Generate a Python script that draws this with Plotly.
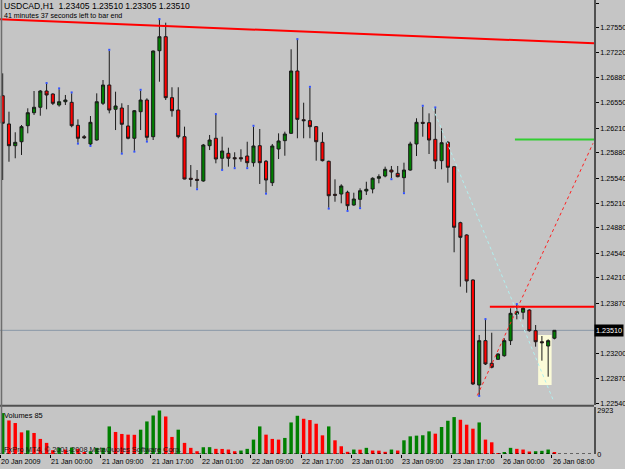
import plotly.graph_objects as go

# ---------------- data ----------------
symbol_header = "USDCAD,H1  1.23405 1.23510 1.23305 1.23510"
timer_text = "41 minutes 37 seconds left to bar end"

opens = [1.26642, 1.26265, 1.25975, 1.26028, 1.26242, 1.26415, 1.26488, 1.26705, 1.26665, 1.26518,
         1.26562, 1.26554, 1.26247, 1.26095, 1.25998, 1.26051, 1.26541, 1.26785, 1.26461, 1.26478,
         1.26238, 1.26074, 1.26429, 1.26585, 1.26095, 1.27243, 1.27430, 1.26616, 1.26451, 1.26095,
         1.25540, 1.25526, 1.25504, 1.25975, 1.26074, 1.25807, 1.25873, 1.25815, 1.25815, 1.25837,
         1.25748, 1.25975, 1.25767, 1.25481, 1.25931, 1.26042, 1.26140, 1.26972, 1.26322, 1.26309,
         1.26229, 1.26020, 1.25767, 1.25326, 1.25330, 1.25353, 1.25183, 1.25259, 1.25370, 1.25397,
         1.25540, 1.25570, 1.25650, 1.25606, 1.25548, 1.25650, 1.25998, 1.26287, 1.26282, 1.26060,
         1.25775, 1.26020, 1.25695, 1.24947, 1.24783, 1.24182, 1.22780, 1.23372, 1.23070, 1.23123,
         1.23171, 1.23372, 1.23724, 1.23751, 1.23781, 1.23505, 1.23358, 1.23301, 1.23405]
highs = [1.26941, 1.26429, 1.26154, 1.26251, 1.26474, 1.26705, 1.26718, 1.26799, 1.26674, 1.26728,
         1.26652, 1.26674, 1.26327, 1.26118, 1.26371, 1.26674, 1.26852, 1.27243, 1.26696, 1.26541,
         1.26518, 1.26451, 1.26709, 1.26608, 1.27245, 1.27653, 1.27617, 1.26755, 1.26755, 1.26229,
         1.25717, 1.25650, 1.25998, 1.26118, 1.26385, 1.26095, 1.25948, 1.25887, 1.25927, 1.26028,
         1.26229, 1.26198, 1.25784, 1.25998, 1.26140, 1.26162, 1.27262, 1.27386, 1.26549, 1.26749,
         1.26238, 1.26154, 1.25775, 1.25526, 1.25460, 1.25374, 1.25347, 1.25406, 1.25494, 1.25553,
         1.25593, 1.25695, 1.25704, 1.25704, 1.25748, 1.26028, 1.26341, 1.26496, 1.26407, 1.26474,
         1.26207, 1.26038, 1.25704, 1.24960, 1.24792, 1.24191, 1.23448, 1.23648, 1.23478, 1.23203,
         1.23404, 1.23804, 1.23848, 1.23835, 1.23791, 1.23581, 1.23434, 1.23390, 1.23510]
lows = [1.25517, 1.25761, 1.25807, 1.25851, 1.26140, 1.26385, 1.26375, 1.26461, 1.26518, 1.26496,
        1.26518, 1.26221, 1.26015, 1.26064, 1.25984, 1.26042, 1.26518, 1.26407, 1.26184, 1.25881,
        1.26060, 1.25908, 1.26184, 1.26042, 1.26051, 1.26829, 1.26585, 1.26362, 1.26074, 1.25526,
        1.25428, 1.25406, 1.25494, 1.25917, 1.25740, 1.25664, 1.25695, 1.25687, 1.25761, 1.25687,
        1.25695, 1.25464, 1.25347, 1.25437, 1.25797, 1.25841, 1.26131, 1.26074, 1.26074, 1.26074,
        1.25775, 1.25765, 1.25147, 1.25227, 1.25206, 1.25116, 1.25174, 1.25153, 1.25317, 1.25339,
        1.25473, 1.25553, 1.25540, 1.25553, 1.25353, 1.25641, 1.25837, 1.26095, 1.25864, 1.25664,
        1.25660, 1.25481, 1.24552, 1.24093, 1.24012, 1.22780, 1.22647, 1.23047, 1.23003, 1.23114,
        1.23158, 1.23314, 1.23657, 1.23657, 1.23492, 1.23292, 1.23105, 1.22891, 1.23390]
closes = [1.26274, 1.25975, 1.26020, 1.26229, 1.26415, 1.26488, 1.26705, 1.26652, 1.26541, 1.26562,
          1.26585, 1.26242, 1.26074, 1.26082, 1.26287, 1.26562, 1.26785, 1.26451, 1.26505, 1.26261,
          1.26074, 1.26442, 1.26585, 1.26087, 1.27239, 1.27430, 1.26616, 1.26442, 1.26095, 1.25530,
          1.25526, 1.25513, 1.25984, 1.26051, 1.25797, 1.25904, 1.25807, 1.25801, 1.25801, 1.25748,
          1.25971, 1.25748, 1.25517, 1.25971, 1.26038, 1.26131, 1.26972, 1.26327, 1.26309, 1.26229,
          1.26028, 1.25775, 1.25307, 1.25313, 1.25437, 1.25174, 1.25263, 1.25374, 1.25393, 1.25540,
          1.25561, 1.25660, 1.25624, 1.25561, 1.25650, 1.25998, 1.26287, 1.26274, 1.26051, 1.25771,
          1.26015, 1.25687, 1.24886, 1.24752, 1.24169, 1.22794, 1.23372, 1.23061, 1.23017, 1.23194,
          1.23372, 1.23737, 1.23759, 1.23804, 1.23505, 1.23358, 1.23345, 1.23372, 1.23510]
volumes = [2748, 2254, 2081, 1454, 1587, 1414, 1014, 747, 253, 414,
           300, 434, 347, 120, 187, 414, 420, 1854, 1481, 1347,
           1300, 1290, 1634, 2188, 2588, 2923, 2521, 1147, 1634, 747,
           414, 187, 454, 460, 347, 340, 300, 187, 233, 347,
           967, 1854, 1300, 1014, 967, 1080, 2121, 2568, 2368, 2281,
           2034, 1254, 1854, 920, 520, 147, 300, 290, 414, 233,
           225, 147, 300, 233, 920, 1187, 1234, 1260, 1521, 1367,
           1814, 2234, 2481, 2301, 1968, 1701, 2121, 967, 787, 67,
           120, 414, 347, 300, 167, 187, 213, 300, 85]

tick_bars = [0, 8, 16, 24, 32, 40, 48, 56, 64, 72, 80, 88]
tick_labels = ["20 Jan 2009", "21 Jan 00:00", "21 Jan 09:00", "21 Jan 17:00", "22 Jan 01:00",
               "22 Jan 09:00", "22 Jan 17:00", "23 Jan 01:00", "23 Jan 09:00", "23 Jan 17:00",
               "26 Jan 00:00", "26 Jan 08:00"]
price_ticks = [1.27880, 1.27550, 1.27220, 1.26880, 1.26550, 1.26210, 1.25880, 1.25540, 1.25210,
               1.24880, 1.24540, 1.24210, 1.23870, 1.23200, 1.22870, 1.22540]
bid_price = 1.23510
volume_max = 2923

upper_fractals = [7, 9, 11, 17, 22, 25, 34, 40, 47, 49, 67, 69, 77, 82]
lower_fractals = [12, 14, 19, 21, 23, 31, 35, 37, 39, 42, 52, 55, 57, 62, 64, 76]

# drawn objects (bar index, price)
trend_top = ([-0.43, 94.31], [1.27662, 1.27342])
green_level = ([81.7, 94.31], [1.26058, 1.26058])
red_level = ([77.7, 94.31], [1.23826, 1.23826])
red_dotted = ([75.7, 94.15], [1.22640, 1.26007])
cyan_dotted = ([68.6, 87.8], [1.26478, 1.22580])
yellow_box = (85.4, 87.55, 1.22780, 1.23448)

# ---------------- figure ----------------
W, H = 625, 469
ML, MR, MT, MB = 0, 31, 0, 15
PW, PH = W - ML - MR, H - MT - MB
BG = "#c5c5c5"
FONT = "Liberation Sans"

def px_x(p):
    return p / PW

def px_y(p):
    return 1 - p / PH

n = len(opens)
idx = list(range(n))
xr = [-0.43, 94.31]

fig = go.Figure()

fig.add_trace(go.Candlestick(
    x=idx, open=opens, high=highs, low=lows, close=closes,
    increasing=dict(fillcolor="#008000", line=dict(color="#1a1a1a", width=1)),
    decreasing=dict(fillcolor="#ff0000", line=dict(color="#1a1a1a", width=1)),
    whiskerwidth=0, hoverinfo="skip", showlegend=False, xaxis="x", yaxis="y"))

# fractal marks
fig.add_trace(go.Scatter(x=upper_fractals, y=[highs[i] + 0.00012 for i in upper_fractals],
                         mode="markers", marker=dict(color="#3050ff", size=2, symbol="square"),
                         showlegend=False, hoverinfo="skip"))
fig.add_trace(go.Scatter(x=lower_fractals, y=[lows[i] - 0.00012 for i in lower_fractals],
                         mode="markers", marker=dict(color="#3050ff", size=2, symbol="square"),
                         showlegend=False, hoverinfo="skip"))

# trend lines / levels
fig.add_trace(go.Scatter(x=trend_top[0], y=trend_top[1], mode="lines",
                         line=dict(color="#ff0000", width=2), showlegend=False, hoverinfo="skip"))
fig.add_trace(go.Scatter(x=green_level[0], y=green_level[1], mode="lines",
                         line=dict(color="#32cd32", width=2), showlegend=False, hoverinfo="skip"))
fig.add_trace(go.Scatter(x=red_level[0], y=red_level[1], mode="lines",
                         line=dict(color="#ff0000", width=2), showlegend=False, hoverinfo="skip"))
fig.add_trace(go.Scatter(x=red_dotted[0], y=red_dotted[1], mode="lines",
                         line=dict(color="#ff2020", width=1, dash="dot"), showlegend=False, hoverinfo="skip"))
fig.add_trace(go.Scatter(x=cyan_dotted[0], y=cyan_dotted[1], mode="lines",
                         line=dict(color="#b0f0f0", width=1, dash="dot"), showlegend=False, hoverinfo="skip"))

# volumes
vcolors = []
for i, v in enumerate(volumes):
    if i == 0 or v > volumes[i - 1]:
        vcolors.append("#008000")
    else:
        vcolors.append("#ff0000")
fig.add_trace(go.Bar(x=idx, y=volumes, marker=dict(color=vcolors, line=dict(width=0)),
                     width=0.55, xaxis="x", yaxis="y2", showlegend=False, hoverinfo="skip"))

main_bottom_px = 405
vol_top_px = 407
px_per_price = 0.0001335
ytop = 1.27920
ybot = ytop - main_bottom_px * px_per_price
vol_top = volume_max * (PH - vol_top_px) / (PH - 410.5)

shapes = [
    dict(type="rect", xref="x", yref="y", x0=yellow_box[0], x1=yellow_box[1],
         y0=yellow_box[2], y1=yellow_box[3], fillcolor="#fbfbd8", line=dict(width=0), layer="below"),
    dict(type="line", xref="paper", yref="y", x0=0, x1=1, y0=bid_price, y1=bid_price,
         line=dict(color="#8a98a8", width=1), layer="below"),
    dict(type="line", xref="paper", yref="y2", x0=0, x1=1, y0=0, y1=0,
         line=dict(color="#000000", width=1, dash="dot")),
    dict(type="line", xref="paper", yref="paper", x0=0, x1=1,
         y0=px_y(405.8), y1=px_y(405.8), line=dict(color="#505050", width=2)),
    dict(type="line", xref="paper", yref="paper", x0=px_x(1.5), x1=px_x(1.5),
         y0=px_y(PH), y1=1, line=dict(color="#6e6e6e", width=1.5)),
]

annotations = [
    dict(text=symbol_header, xref="paper", yref="paper", x=px_x(2), y=px_y(6),
         xanchor="left", yanchor="middle", showarrow=False,
         font=dict(family=FONT, size=8.6, color="#000000")),
    dict(text=timer_text, xref="paper", yref="paper", x=px_x(2), y=px_y(15.8),
         xanchor="left", yanchor="middle", showarrow=False,
         font=dict(family=FONT, size=7.1, color="#000000")),
    dict(text="Volumes " + str(volumes[-1]), xref="paper", yref="paper", x=px_x(2), y=px_y(415),
         xanchor="left", yanchor="middle", showarrow=False,
         font=dict(family=FONT, size=7.4, color="#000000")),
    dict(text="FxPro MT4, © 2001-2008 MetaQuotes Software Corp.", xref="paper", yref="paper",
         x=px_x(2), y=px_y(449), xanchor="left", yanchor="middle", showarrow=False,
         font=dict(family=FONT, size=7.4, color="#1a1a1a")),
    dict(text=f"{bid_price:.5f}", xref="paper", yref="y", x=1, y=bid_price, xanchor="left",
         yanchor="middle", xshift=0, showarrow=False, bgcolor="#000000", borderpad=1,
         font=dict(family=FONT, size=7.2, color="#ffffff")),
]
for b, lab in zip(tick_bars, tick_labels):
    annotations.append(dict(text=lab, xref="x", yref="paper", x=b - 0.4, y=px_y(461.5),
                            xanchor="left", yanchor="middle", showarrow=False, xshift=-1,
                            font=dict(family=FONT, size=7.2, color="#000000")))

fig.update_layout(
    width=W, height=H,
    margin=dict(l=ML, r=MR, t=MT, b=MB, pad=0),
    paper_bgcolor=BG, plot_bgcolor=BG,
    showlegend=False, boxgap=0.3,
    font=dict(family=FONT, size=7.2, color="#000000"),
    xaxis=dict(range=xr, anchor="y2", showgrid=False, zeroline=False, showline=False,
               rangeslider=dict(visible=False), tickmode="array",
               tickvals=[b - 0.4 for b in tick_bars], ticktext=[""] * len(tick_bars),
               ticks="outside", ticklen=3, tickcolor="#000000", showticklabels=False),
    yaxis=dict(domain=[px_y(main_bottom_px), 1], range=[ybot, ytop], side="right",
               showgrid=False, zeroline=False, showline=True, linecolor="#505050", linewidth=1.5,
               tickmode="array", tickvals=price_ticks, ticktext=[f"{v:.5f}" for v in price_ticks],
               ticks="outside", ticklen=3, tickcolor="#000000",
               tickfont=dict(family=FONT, size=7.2, color="#000000")),
    yaxis2=dict(domain=[0, px_y(vol_top_px)], range=[0, vol_top], side="right", anchor="x",
                showgrid=False, zeroline=False, showline=True, linecolor="#505050", linewidth=1.5,
                tickmode="array", tickvals=[0, volume_max], ticktext=["0", str(volume_max)],
                ticks="", tickfont=dict(family=FONT, size=7.2, color="#000000")),
    shapes=shapes, annotations=annotations,
)

fig.write_html("out.html")
